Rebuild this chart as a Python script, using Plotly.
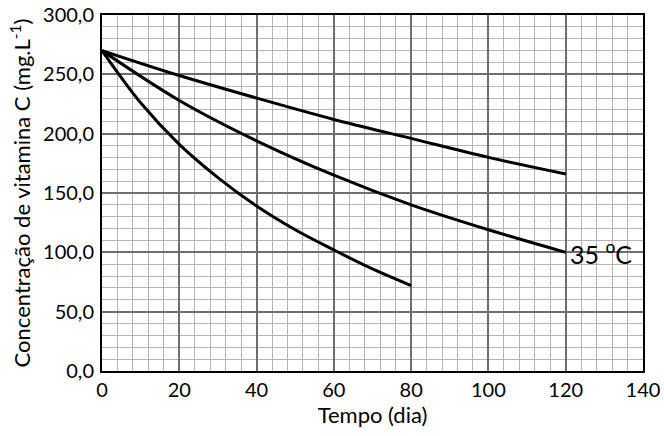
import plotly.graph_objects as go

# Data
days_a = [0, 20, 40, 60, 80, 100, 120]
conc_a = [270, 249, 230, 212, 196, 180, 166]

days_b = [0, 20, 40, 60, 80, 100, 120]
conc_b = [270, 228, 194, 165, 140, 119, 100]

days_c = [0, 10, 20, 30, 40, 50, 60, 70, 80]
conc_c = [270, 226, 191, 163, 139, 119, 102, 86, 72]

x_ticks = [0, 20, 40, 60, 80, 100, 120, 140]
y_ticks = [0, 50, 100, 150, 200, 250, 300]

label_text = "35 <sup>o</sup>C"
label_x = 120
label_y = 100

FONT = "Lato, 'Open Sans', sans-serif"

fig = go.Figure()
for xs, ys in [(days_a, conc_a), (days_b, conc_b), (days_c, conc_c)]:
    fig.add_trace(go.Scatter(x=xs, y=ys, mode="lines",
                             line=dict(color="black", width=3, shape="spline", smoothing=1.0),
                             showlegend=False, hoverinfo="skip"))

fig.add_annotation(x=label_x, y=label_y, text=label_text, showarrow=False,
                   xanchor="left", yanchor="middle", xshift=2,
                   font=dict(family=FONT, size=25, color="black"))

fig.update_layout(
    width=664, height=436,
    margin=dict(l=102, r=21, t=15, b=65),
    paper_bgcolor="white", plot_bgcolor="white",
    separators=", ",
    font=dict(family=FONT, size=20, color="black"),
    xaxis=dict(range=[0, 140], tickvals=x_ticks, showgrid=True, automargin=False,
               gridcolor="#6e6e6e", gridwidth=1.5,
               minor=dict(dtick=4, tick0=0, showgrid=True, gridcolor="#b4b4b4", gridwidth=1),
               showline=True, mirror=True, linecolor="black", linewidth=2,
               ticks="", zeroline=False, tickfont=dict(size=20),
               title=dict(text="Tempo (dia)", standoff=6, font=dict(size=22))),
    yaxis=dict(range=[0, 300], tickvals=y_ticks, tickformat=".1f", showgrid=True, automargin=False,
               gridcolor="#6e6e6e", gridwidth=1.5,
               minor=dict(dtick=10, tick0=0, showgrid=True, gridcolor="#b4b4b4", gridwidth=1),
               showline=True, mirror=True, linecolor="black", linewidth=2,
               ticks="", zeroline=False, ticklabelstandoff=2, tickfont=dict(size=20),
               title=dict(text="Concentração de vitamina C (mg.L<sup>-1</sup>)", standoff=6,
                          font=dict(size=22))),
)

fig.write_html("out.html", config={"displayModeBar": False},
               post_script="document.body.style.margin='0';document.body.style.overflow='hidden';")
